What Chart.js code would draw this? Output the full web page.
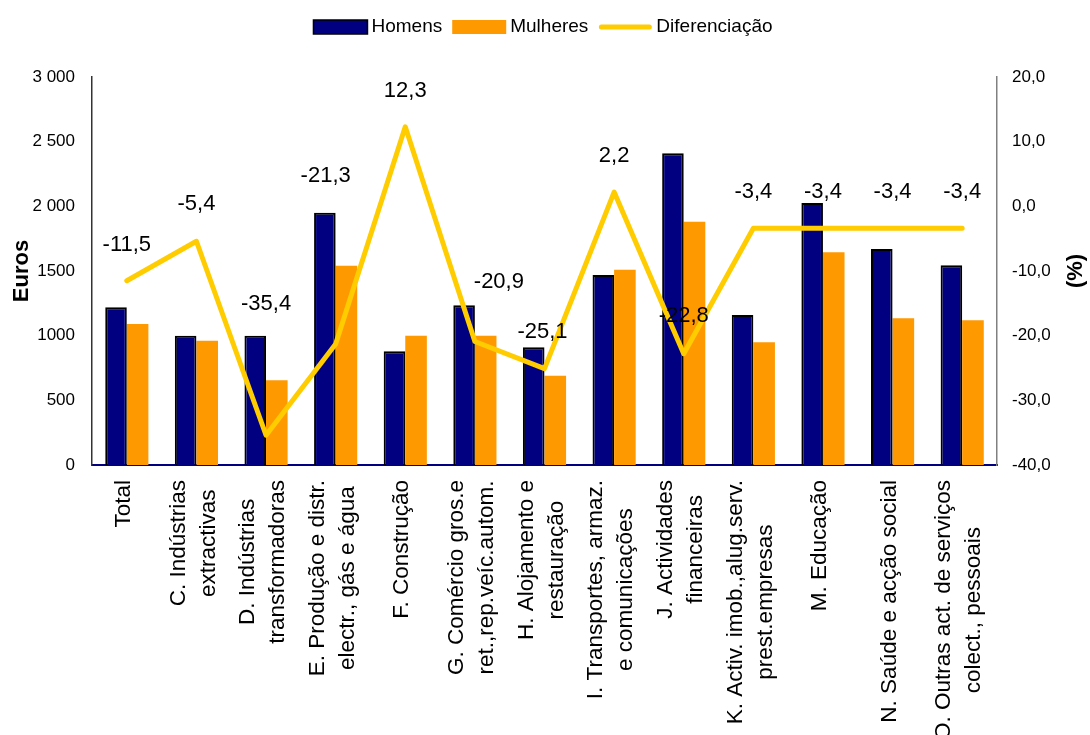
<!DOCTYPE html>
<html>
<head>
<meta charset="utf-8">
<title>Ganho médio mensal por sexo</title>
<script src="https://cdn.jsdelivr.net/npm/chart.js@4.4.0/dist/chart.umd.min.js"></script>
<style>
    html, body { margin: 0; padding: 0; background: #fff; }
    #wrap { width: 1090px; height: 735px; position: relative; }
</style>
</head>
<body>
<div id="wrap"><canvas id="earning"></canvas></div>
<script>
var categories = [
    ['Total'],
    ['C. Indústrias', 'extractivas'],
    ['D. Indústrias', 'transformadoras'],
    ['E. Produção e distr.', 'electr., gás e água'],
    ['F. Construção'],
    ['G. Comércio gros.e', 'ret.,rep.veíc.autom.'],
    ['H. Alojamento e', 'restauração'],
    ['I. Transportes, armaz.', 'e comunicações'],
    ['J. Actividades', 'financeiras'],
    ['K. Activ. imob.,alug.serv.', 'prest.empresas'],
    ['M. Educação'],
    ['N. Saúde e acção social'],
    ['O. Outras act. de serviços', 'colect., pessoais']
];
var homens = [1220, 1000, 1000, 1950, 880, 1235, 910, 1470, 2410, 1160, 2025, 1670, 1545];
var mulheres = [1090, 960, 655, 1540, 1000, 1000, 690, 1510, 1880, 950, 1645, 1135, 1120];
var diferenciacao = [-11.5, -5.4, -35.4, -21.3, 12.3, -20.9, -25.1, 2.2, -22.8, -3.4, -3.4, -3.4, -3.4];
var eurosTicks = ['0', '500', '1000', '1500', '2 000', '2 500', '3 000'];
var pctTicks = ['-40,0', '-30,0', '-20,0', '-10,0', '0,0', '10,0', '20,0'];

// where the value labels sit relative to their point (px)
var labelNudge = [[0, -36], [0, -37], [0, -131], [-10, -168], [0, -36], [24, -60], [-2, -37],
    [0, -36], [0, -38], [0, -36], [0, -36], [0, -36], [0, -36]];

var FONT = '"Liberation Sans", Arial, sans-serif';

var overlay = {
    id: 'overlay',
    afterDatasetsDraw: function (chart) {
        var ctx = chart.ctx;
        var meta = chart.getDatasetMeta(2);
        ctx.save();
        ctx.font = '22px ' + FONT;
        ctx.fillStyle = '#000';
        ctx.textAlign = 'center';
        ctx.textBaseline = 'middle';
        meta.data.forEach(function (pt, i) {
            var n = labelNudge[i];
            ctx.fillText(diferenciacao[i].toFixed(1).replace('.', ','), pt.x + n[0], pt.y + n[1]);
        });
        ctx.restore();
    },
    afterDraw: function (chart) {
        var ctx = chart.ctx;
        var xs = chart.scales.x;
        var area = chart.chartArea;
        ctx.save();
        ctx.fillStyle = '#000';

        // category labels, rotated, lines centred on each other
        ctx.font = '22.5px ' + FONT;
        ctx.textAlign = 'center';
        ctx.textBaseline = 'middle';
        categories.forEach(function (lines, i) {
            var cx = xs.getPixelForValue(i);
            var w = 0;
            lines.forEach(function (l) { w = Math.max(w, ctx.measureText(l).width); });
            ctx.save();
            ctx.translate(cx - 3, xs.top + 15);
            ctx.rotate(-Math.PI / 2);
            lines.forEach(function (l, k) {
                ctx.fillText(l, -w / 2, (k - (lines.length - 1) / 2) * 30);
            });
            ctx.restore();
        });

        // right axis title
        ctx.font = 'bold 22px ' + FONT;
        ctx.save();
        ctx.translate(1076, (area.top + area.bottom) / 2);
        ctx.rotate(-Math.PI / 2);
        ctx.fillText('(%)', 0, 0);
        ctx.restore();

        // legend
        ctx.font = '19px ' + FONT;
        ctx.textAlign = 'left';
        var ds = chart.data.datasets;
        var boxW = 54, gap = 4, sep = 10, ly = 27;
        var total = 0;
        ds.forEach(function (d) { total += boxW + gap + ctx.measureText(d.label).width; });
        total += sep * (ds.length - 1);
        var lx = (chart.width - total) / 2 - 2;
        ds.forEach(function (d) {
            if (d.type === 'line') {
                ctx.strokeStyle = d.borderColor;
                ctx.lineWidth = 5;
                ctx.lineCap = 'round';
                ctx.beginPath();
                ctx.moveTo(lx + 3, ly);
                ctx.lineTo(lx + boxW - 3, ly);
                ctx.stroke();
            } else {
                ctx.fillStyle = d.backgroundColor;
                ctx.fillRect(lx, ly - 7, boxW, 14);
                if (d.borderWidth) {
                    ctx.strokeStyle = d.borderColor;
                    ctx.lineWidth = 1.5;
                    ctx.strokeRect(lx, ly - 7, boxW, 14);
                }
            }
            ctx.fillStyle = '#000';
            ctx.fillText(d.label, lx + boxW + gap, ly);
            lx += boxW + gap + ctx.measureText(d.label).width + sep;
        });
        ctx.restore();
    }
};

var earning = document.getElementById('earning').getContext('2d');
var myChart = new Chart(earning, {
    type: 'bar',
    data: {
        labels: categories,
        datasets: [{
            label: 'Homens',
            data: homens,
            backgroundColor: '#000080',
            borderColor: '#000000',
            borderWidth: 2,
            yAxisID: 'y',
            order: 1
        }, {
            label: 'Mulheres',
            data: mulheres,
            backgroundColor: '#FF9900',
            borderWidth: 0,
            yAxisID: 'y',
            order: 1
        }, {
            type: 'line',
            label: 'Diferenciação',
            data: diferenciacao,
            borderColor: '#FFCC00',
            borderWidth: 5,
            borderCapStyle: 'round',
            borderJoinStyle: 'round',
            pointRadius: 0,
            tension: 0,
            yAxisID: 'y1',
            order: 0
        }]
    },
    options: {
        responsive: true,
        maintainAspectRatio: false,
        animation: false,
        layout: { padding: { top: 77, left: 0, right: 0, bottom: 0 } },
        datasets: {
            bar: { categoryPercentage: 0.62, barPercentage: 1 }
        },
        plugins: {
            legend: { display: false },
            tooltip: { enabled: false }
        },
        scales: {
            x: {
                grid: { display: false, drawTicks: false },
                border: { display: true, color: '#000080', width: 2 },
                ticks: { display: false },
                afterFit: function (s) { s.height = 270; }
            },
            y: {
                position: 'left',
                min: 0,
                max: 3000,
                grid: { display: false, drawTicks: false },
                border: { display: true, color: '#333333', width: 1.5 },
                ticks: {
                    stepSize: 500,
                    padding: 17,
                    color: '#000',
                    font: { family: FONT, size: 17 },
                    callback: function (v, i) { return eurosTicks[i]; }
                },
                title: {
                    display: true,
                    text: 'Euros',
                    color: '#000',
                    font: { family: FONT, size: 22, weight: 'bold' },
                    padding: { top: 9, bottom: 0 }
                },
                afterFit: function (s) { s.width = 92; }
            },
            y1: {
                position: 'right',
                min: -40,
                max: 20,
                grid: { display: false, drawTicks: false },
                border: { display: true, color: '#808080', width: 1.5 },
                ticks: {
                    stepSize: 10,
                    padding: 15,
                    color: '#000',
                    font: { family: FONT, size: 17 },
                    callback: function (v, i) { return pctTicks[i]; }
                },
                afterFit: function (s) { s.width = 93; }
            }
        }
    },
    plugins: [overlay]
});
</script>
</body>
</html>
